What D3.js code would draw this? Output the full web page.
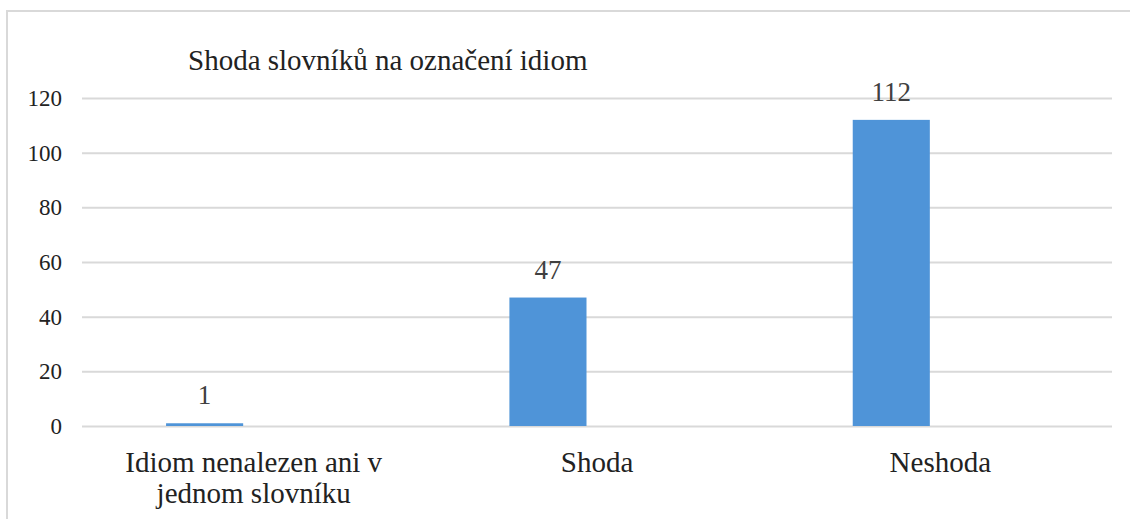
<!DOCTYPE html>
<html>
<head>
<meta charset="utf-8">
<script src="https://cdn.jsdelivr.net/npm/d3@7"></script>
<style>
  body { margin: 0; background: #fff; }
</style>
</head>
<body>
<svg id="chart" width="1130" height="519"></svg>
<script>
// data
const categories = ['Idiom nenalezen ani v jednom slovníku', 'Shoda', 'Neshoda'];
const categoryLines = [['Idiom nenalezen ani v', 'jednom slovníku'], ['Shoda'], ['Neshoda']];
const seriesNames = ['Počet', ''];
const seriesValues = [1, 47, 112];
const yTicks = [0, 20, 40, 60, 80, 100, 120];
const chartTitle = 'Shoda slovníků na označení idiom';

const serif = 'Liberation Serif';

const svg = d3.select('#chart');
const margin = { top: 98, right: 18, bottom: 93, left: 82 };
const width = +svg.attr('width');
const height = +svg.attr('height');
const innerWidth = width - margin.left - margin.right;
const innerHeight = height - margin.top - margin.bottom;

// outer frame, only left and top edges are visible
svg.append('path')
    .attr('d', `M7,${height} V11 H${width}`)
    .attr('fill', 'none')
    .attr('stroke', '#d9d9d9')
    .attr('stroke-width', 2);

const g = svg.append('g')
    .attr('transform', `translate(${margin.left}, ${margin.top})`);

const xScale = d3.scaleBand()
    .domain(categories)
    .range([0, innerWidth]);

const xSeries = d3.scaleBand()
    .domain(seriesNames)
    .range([0, xScale.bandwidth()])
    .paddingInner(0.214)
    .paddingOuter(0.857);

const yScale = d3.scaleLinear()
    .domain([0, 120])
    .range([innerHeight, 0]);

const yAxis = d3.axisLeft(yScale)
    .tickValues(yTicks)
    .tickSize(-innerWidth)
    .tickPadding(20);

const yAxisG = g.append('g').call(yAxis)
    .attr('font-family', serif)
    .attr('font-size', 23);
yAxisG.select('.domain').remove();
yAxisG.selectAll('.tick line')
    .attr('stroke', '#d9d9d9')
    .attr('stroke-width', 2);
yAxisG.selectAll('.tick text')
    .attr('fill', '#222');

const xAxisG = g.append('g')
    .attr('transform', `translate(0, ${innerHeight})`)
    .call(d3.axisBottom(xScale).tickSize(0))
    .attr('font-family', serif)
    .attr('font-size', 29);
xAxisG.select('.domain').remove();
xAxisG.selectAll('.tick text').remove();

xAxisG.selectAll('.tick').each(function(d, i) {
    const t = d3.select(this).append('text')
        .attr('fill', '#222')
        .attr('text-anchor', 'middle');
    categoryLines[i].forEach((line, j) => {
        t.append('tspan')
            .attr('x', 0)
            .attr('y', 46 + j * 31)
            .text(line);
    });
});

g.selectAll('.bar')
    .data(seriesValues)
    .enter().append('rect')
    .attr('class', 'bar')
    .attr('x', (d, i) => xScale(categories[i]) + xSeries(seriesNames[0]))
    .attr('y', d => yScale(d))
    .attr('width', xSeries.bandwidth())
    .attr('height', d => innerHeight - yScale(d))
    .attr('fill', '#4f94d8');

g.selectAll('.label')
    .data(seriesValues)
    .enter().append('text')
    .attr('class', 'label')
    .attr('x', (d, i) => xScale(categories[i]) + xSeries(seriesNames[0]) + xSeries.bandwidth() / 2)
    .attr('y', d => yScale(d) - 19)
    .attr('text-anchor', 'middle')
    .attr('fill', '#404040')
    .attr('font-family', serif)
    .attr('font-size', 27)
    .text(d => d);

svg.append('text')
    .attr('x', 188)
    .attr('y', 70)
    .attr('fill', '#222')
    .attr('font-family', serif)
    .attr('font-size', 29)
    .text(chartTitle);
</script>
</body>
</html>
